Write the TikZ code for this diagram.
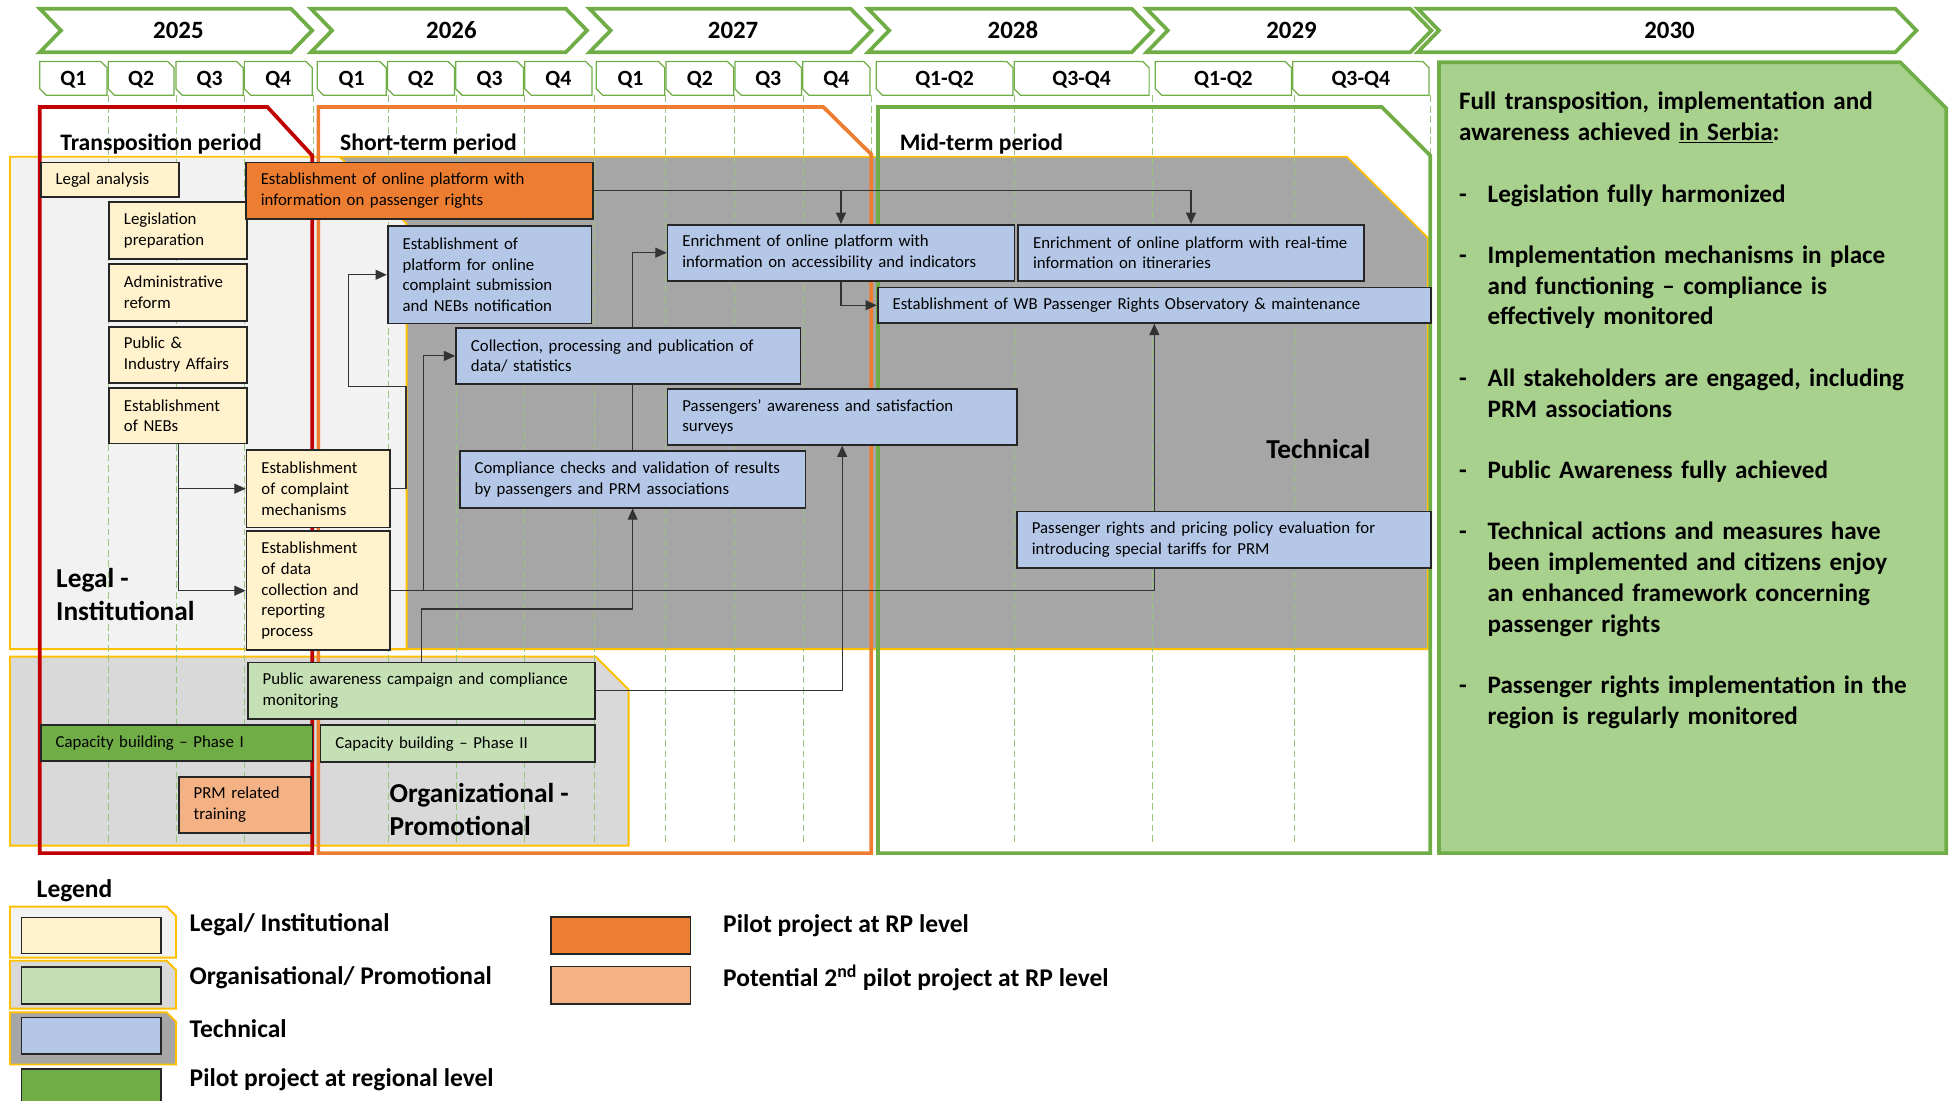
\documentclass[tikz,border=0pt]{standalone}
\usepackage{fontspec}
\setmainfont{Carlito}
\usetikzlibrary{arrows.meta}

\definecolor{pgreen}{HTML}{70AD47}
\definecolor{lgreen}{HTML}{A9D18E}
\definecolor{orgfill}{HTML}{C5E0B4}
\definecolor{legfill}{HTML}{FFF2CC}
\definecolor{techfill}{HTML}{B4C7E7}
\definecolor{rporange}{HTML}{ED7D31}
\definecolor{rplight}{HTML}{F4B183}
\definecolor{tred}{HTML}{C00000}
\definecolor{ryellow}{HTML}{FFC000}
\definecolor{lgrey}{HTML}{F2F2F2}
\definecolor{ogrey}{HTML}{D9D9D9}
\definecolor{tgrey}{HTML}{A6A6A6}

\pgfdeclarelayer{back}
\pgfdeclarelayer{links}
\pgfsetlayers{back,links,main}

\newcommand{\boxtxt}{\fontsize{13.5}{16.6}\selectfont}
\newcommand{\yeartxt}{\fontsize{20}{23}\selectfont\bfseries}
\newcommand{\qtxt}{\fontsize{17.5}{20}\selectfont\bfseries}
\newcommand{\periodtxt}{\fontsize{19}{22}\selectfont\bfseries}
\newcommand{\regiontxt}{\fontsize{22}{26.5}\selectfont\bfseries}
\newcommand{\goaltxt}{\fontsize{20.2}{24.7}\selectfont\bfseries}
\newcommand{\legtxt}{\fontsize{20.5}{24}\selectfont\bfseries}

\tikzset{
  task/.style 2 args={draw=black!85, line width=1.4pt, anchor=north west,
    inner xsep=12pt, inner ysep=0pt, align=left, font=\boxtxt,
    minimum width=#1, text width=#1-24pt, minimum height=#2},
  swatch/.style={draw=black!85, line width=1.4pt, anchor=north west,
    minimum width=112pt, inner sep=0pt},
  yearshape/.style={draw=pgreen, line width=3pt, fill=white, line join=miter},
  qshape/.style={draw=pgreen, line width=1pt, fill=white},
  gridline/.style={draw=pgreen!70, line width=0.8pt, dash pattern=on 5.5pt off 3pt},
  region/.style={draw=ryellow, line width=1.5pt},
  period/.style={draw=#1, line width=3pt, line join=miter},
  link/.style={draw=black!80, line width=0.9pt},
  arr/.style={link, -{Triangle[length=9pt,width=8pt]}},
}

\begin{document}
\begin{tikzpicture}[x=1pt, y=-1pt]
\useasboundingbox (0,0) rectangle (1568,885);

\begin{pgfonlayer}{back}
  % regions
  \draw[region, fill=tgrey] (274,126) -- (1083,126) -- (1148,191) -- (1148,522) -- (274,522) -- cycle;
  \draw[region, fill=lgrey] (8,126) -- (273,126) -- (327,180) -- (327,522) -- (8,522) -- cycle;
  \draw[region, fill=ogrey] (8,528) -- (479,528) -- (505.5,554.5) -- (505.5,680) -- (8,680) -- cycle;
  % quarters
  \foreach \x in {87,142,197,252,312,367,422,478,535,591,646,701,816,927,1041,1150}
    \draw[gridline] (\x,76.5) -- (\x,680);
  % periods
  \draw[period=tred] (32,86) -- (215,86) -- (251,125) -- (251,686) -- (32,686) -- cycle;
  \draw[period=rporange] (256,86) -- (662,86) -- (700.5,124) -- (700.5,686) -- (256,686) -- cycle;
  \draw[period=pgreen] (706,86) -- (1111,86) -- (1150,125) -- (1150,686) -- (706,686) -- cycle;
\end{pgfonlayer}

% years
\foreach \a/\b/\yr [count=\i] in {32/251/2025, 250/472/2026, 474/701/2027, 698/927/2028, 922/1151/2029, 1140/1541/2030} {
  \draw[yearshape] (\a,7) -- (\b-17,7) -- (\b,24.5) -- (\b-17,42) -- (\a,42) -- (\a+17,24.5) -- cycle;
  \node[font=\yeartxt] (yr\i) at ({(\a+\b)/2+2},24.5) {\yr};
}
\foreach \a/\b/\q [count=\i] in {32/86/Q1, 87/140/Q2, 141.5/195.5/Q3, 196.5/251/Q4,
    255/310.5/Q1, 311.5/365.5/Q2, 366.5/421/Q3, 422/476/Q4,
    479.5/534.5/Q1, 535.5/590/Q2, 591/644.5/Q3, 645.5/699.5/Q4,
    704.5/814.5/Q1-Q2, 815.5/924/Q3-Q4, 929/1038.5/Q1-Q2, 1039.5/1149/Q3-Q4} {
  \draw[qshape] (\a,49.5) -- (\b-5,49.5) -- (\b,54.5) -- (\b,76.5) -- (\a+5,76.5) -- (\a,71.5) -- cycle;
  \node[font=\qtxt] (q\i) at ({(\a+\b)/2},64) {\q};
}

\node[font=\periodtxt, anchor=west] (tp) at (45,116) {Transposition period};
\node[font=\periodtxt, anchor=west] (st) at (270,116) {Short-term period};
\node[font=\periodtxt, anchor=west] (mt) at (720,116) {Mid-term period};

\node[font=\regiontxt, anchor=west, align=left, inner sep=0pt] (lglbl) at (45,478) {Legal -\\Institutional};
\node[font=\regiontxt, anchor=west, align=left, inner sep=0pt] (orglbl) at (313,651) {Organizational -\\Promotional};
\node[font=\regiontxt] (techlbl) at (1060,361) {Technical};

% legal - institutional
\node[task={111pt}{28pt}, fill=legfill] (la) at (32,130) {Legal analysis};
\node[task={111pt}{45.5pt}, fill=legfill] (lp) at (87,162) {Legislation\\preparation};
\node[task={111pt}{46pt}, fill=legfill] (ar) at (87,211.5) {Administrative\\reform};
\node[task={111pt}{45pt}, fill=legfill] (pia) at (87,262) {Public \&\\Industry Affairs};
\node[task={111pt}{45pt}, fill=legfill] (nebs) at (87,311) {Establishment\\of NEBs};
\node[task={115.5pt}{62.5pt}, fill=legfill] (ecm) at (197.5,361) {Establishment\\of complaint\\mechanisms};
\node[task={115.5pt}{95.5pt}, fill=legfill] (dcr) at (197.5,426.5) {Establishment\\of data\\collection and\\reporting\\process};
\node[task={279pt}{45.5pt}, fill=rporange] (opr) at (197,130) {Establishment of online platform with\\information on passenger rights};

% technical
\node[task={164pt}{78.5pt}, fill=techfill] (plat) at (311,181) {Establishment of\\platform for online\\complaint submission\\and NEBs notification};
\node[task={277pt}{45pt}, fill=techfill] (coll) at (366,263) {Collection, processing and publication of\\data/ statistics};
\node[task={278pt}{45.5pt}, fill=techfill] (cc) at (369,362) {Compliance checks and validation of results\\by passengers and PRM associations};
\node[task={281pt}{45pt}, fill=techfill] (surv) at (536,312) {Passengers’ awareness and satisfaction\\surveys};
\node[task={279pt}{45pt}, fill=techfill] (enr1) at (536,180) {Enrichment of online platform with\\information on accessibility and indicators};
\node[task={278pt}{45pt}, fill=techfill] (enr2) at (818,180) {Enrichment of online platform with real-time\\information on itineraries};
\node[task={445pt}{28.5pt}, fill=techfill] (obs) at (705,230.5) {Establishment of WB Passenger Rights Observatory \& maintenance};
\node[task={333pt}{45.5pt}, fill=techfill] (ppe) at (817,410.5) {Passenger rights and pricing policy evaluation for\\introducing special tariffs for PRM};

% organizational - promotional
\node[task={279.5pt}{45.5pt}, fill=orgfill] (pac) at (198.5,532) {Public awareness campaign and compliance\\monitoring};
\node[task={221pt}{29.5pt}, fill=orgfill] (cb2) at (257,582.5) {Capacity building -- Phase II};
\node[task={218.5pt}{29pt}, fill=pgreen] (cb1) at (32,582) {Capacity building -- Phase I};
\node[task={106.5pt}{45pt}, fill=rplight] (prm) at (143,624) {PRM related\\training};

\begin{pgfonlayer}{links}
  \draw[arr] (nebs.south) |- (ecm.west);
  \draw[arr] (nebs.south) |- (dcr.west);
  \draw[arr] (ecm.east) -| (326.5,311) -- (280,311) |- (plat.west);
  \draw[arr] (dcr.east) -- ++(26,0) |- (coll.west);
  \draw[arr] (dcr.east) -| (obs.south);
  \draw[arr] (opr.east) -| (enr2.north);
  \draw[arr] (enr1.north |- opr.east) -- (enr1.north);
  \draw[arr] (enr1.south) |- (obs.west);
  \draw[arr] (cc.north) |- (enr1.west);
  \draw[arr] ([xshift=140.5pt]pac.north west) -- ++(0,-42.3) -| (cc.south);
  \draw[arr] (pac.east) -| (surv.south);
\end{pgfonlayer}

% 2030 outcome
\draw[fill=lgreen, draw=pgreen, line width=3pt, line join=miter] (1157,50) -- (1528,50) -- (1565,87) -- (1565,686) -- (1157,686) -- cycle;
\node[font=\goaltxt, anchor=north west, align=left, inner sep=0pt, text width=385pt] (goal) at (1173,74) {%
Full transposition, implementation and\\
awareness achieved \underline{in Serbia}:\\[24.7pt]
\makebox[23pt][l]{-}Legislation fully harmonized\\[24.7pt]
\makebox[23pt][l]{-}Implementation mechanisms in place\\
\hspace*{23pt}and functioning -- compliance is\\
\hspace*{23pt}effectively monitored\\[24.7pt]
\makebox[23pt][l]{-}All stakeholders are engaged, including\\
\hspace*{23pt}PRM associations\\[24.7pt]
\makebox[23pt][l]{-}Public Awareness fully achieved\\[24.7pt]
\makebox[23pt][l]{-}Technical actions and measures have\\
\hspace*{23pt}been implemented and citizens enjoy\\
\hspace*{23pt}an enhanced framework concerning\\
\hspace*{23pt}passenger rights\\[24.7pt]
\makebox[23pt][l]{-}Passenger rights implementation in the\\
\hspace*{23pt}region is regularly monitored};

% legend
\node[font=\legtxt, anchor=west] (legend) at (26,716) {Legend};
\draw[region, fill=lgrey] (8,729) -- (134,729) -- (141.5,736.5) -- (141.5,770) -- (8,770) -- cycle;
\draw[region, fill=ogrey] (8,772.5) -- (134,772.5) -- (141.5,780) -- (141.5,811) -- (8,811) -- cycle;
\draw[region, fill=tgrey] (8,814) -- (134,814) -- (141.5,821.5) -- (141.5,856) -- (8,856) -- cycle;
\node[swatch, minimum height=29pt, fill=legfill] (swlegal) at (16.5,737) {};
\node[swatch, minimum height=29.5pt, fill=orgfill] (sworg) at (16.5,777) {};
\node[swatch, minimum height=29.5pt, fill=techfill] (swtech) at (16.5,817.5) {};
\node[swatch, minimum height=31pt, fill=pgreen] (swreg) at (16.5,859) {};
\node[swatch, minimum height=30pt, fill=rporange] (swrp) at (442.5,736.5) {};
\node[swatch, minimum height=30pt, fill=rplight] (swrp2) at (442.5,776.5) {};
\node[font=\legtxt, anchor=west] (lbllegal) at (149,743.5) {Legal/ Institutional};
\node[font=\legtxt, anchor=west] (lblorg) at (149,786.5) {Organisational/ Promotional};
\node[font=\legtxt, anchor=west] (lbltech) at (149,827.5) {Technical};
\node[font=\legtxt, anchor=west] (lblreg) at (149,868.5) {Pilot project at regional level};
\node[font=\legtxt, anchor=west] (lblrp) at (578,744.5) {Pilot project at RP level};
\node[font=\legtxt, anchor=west] (lblrp2) at (578,786.5) {Potential 2\textsuperscript{nd} pilot project at RP level};
\end{tikzpicture}
\end{document}
